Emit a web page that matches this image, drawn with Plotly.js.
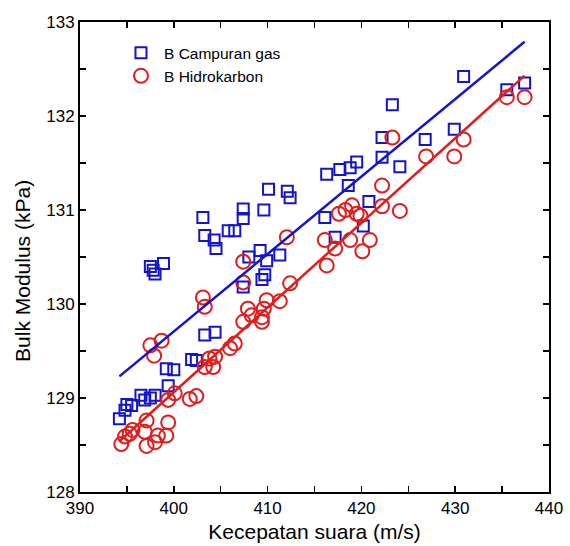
<!DOCTYPE html>
<html>
<head>
<meta charset="utf-8">
<script src="https://cdn.plot.ly/plotly-3.0.1.min.js"></script>
<style>
  html, body { margin: 0; padding: 0; background: #fff; }
  #chart { width: 570px; height: 546px; }
</style>
</head>
<body>
<div id="chart"></div>
<script>
// Series: B Campuran gas (blue squares)
const gasX = [394.2, 394.8, 395.0, 395.5, 396.5, 396.9, 397.5, 398.0, 399.4, 399.2, 400.0, 401.9, 402.4, 403.3, 404.4,
  397.5, 397.8, 398.0, 398.9, 403.1, 403.3, 404.3, 404.5, 405.8, 406.5, 407.4, 407.4, 407.4, 408.0, 409.2,
  409.9, 411.3, 409.4, 409.7, 409.6, 410.1, 412.1, 412.4, 416.1, 416.3, 417.2, 417.7, 418.6, 418.8, 419.5,
  420.2, 420.8, 422.2, 422.2, 423.3, 424.1, 426.8, 429.9, 430.9, 435.5, 437.4];
const gasY = [128.78, 128.87, 128.93, 128.92, 129.03, 128.98, 129.00, 129.03, 129.13, 129.31, 129.30, 129.41, 129.40, 129.67, 129.70,
  130.40, 130.36, 130.32, 130.43, 130.92, 130.73, 130.68, 130.59, 130.78, 130.78, 131.01, 130.91, 130.18, 130.50, 130.57,
  130.46, 130.52, 130.26, 130.31, 131.00, 131.22, 131.20, 131.13, 130.92, 131.38, 130.71, 131.43, 131.26, 131.45, 131.51,
  130.83, 131.09, 131.56, 131.77, 132.12, 131.46, 131.75, 131.86, 132.42, 132.28, 132.35];

// Series: B Hidrokarbon (red circles)
const hcX = [394.4, 394.8, 395.3, 395.6, 396.9, 397.1, 397.1, 398.0, 398.3, 399.2, 399.4, 399.4, 400.1, 401.7, 402.4,
  397.5, 398.7, 397.9, 403.1, 403.3, 403.8, 403.3, 404.4, 404.2, 406.0, 406.5, 407.4, 407.9, 408.3, 409.6,
  409.4, 409.4, 409.9, 411.3, 412.4, 407.4, 407.4, 412.05, 416.1, 416.3, 417.2, 417.6, 418.3, 419.0, 419.5,
  418.8, 419.9, 420.1, 420.9, 422.2, 422.2, 424.1, 423.3, 426.9, 429.9, 430.9, 435.5, 437.4];
const hcY = [128.51, 128.59, 128.62, 128.66, 128.64, 128.76, 128.49, 128.53, 128.60, 128.60, 128.74, 128.98, 129.05, 128.99, 129.02,
  129.56, 129.61, 129.45, 130.07, 129.97, 129.42, 129.33, 129.44, 129.33, 129.53, 129.58, 129.81, 129.95, 129.88, 129.95,
  129.86, 129.81, 130.04, 130.03, 130.22, 130.45, 130.23, 130.71, 130.68, 130.41, 130.59, 130.96, 131.00, 131.05, 130.96,
  130.68, 130.94, 130.56, 130.68, 131.04, 131.26, 130.99, 131.77, 131.57, 131.57, 131.75, 132.20, 132.20];

// Fit lines (endpoints)
const fitX = [394.2, 437.4];
const fitGasY = [129.23, 132.79];
const fitHcY = [128.54, 132.43];

// Tick labels
const xTickVals = [390, 395, 400, 405, 410, 415, 420, 425, 430, 435, 440];
const xTickText = ['390', '', '400', '', '410', '', '420', '', '430', '', '440'];
const yTickVals = [128, 128.5, 129, 129.5, 130, 130.5, 131, 131.5, 132, 132.5, 133];
const yTickText = ['128', '', '129', '', '130', '', '131', '', '132', '', '133'];

const BLUE = '#1414c8';
const RED = '#e01e1e';
const FONT = 'Liberation Sans, Arial, sans-serif';

const traces = [
  { x: gasX, y: gasY, mode: 'markers', type: 'scatter', name: 'B Campuran gas',
    marker: { symbol: 'square-open', size: 11, color: BLUE, line: { width: 2, color: BLUE } } },
  { x: hcX, y: hcY, mode: 'markers', type: 'scatter', name: 'B Hidrokarbon',
    marker: { symbol: 'circle-open', size: 14, color: RED, line: { width: 2, color: RED } } },
  { x: fitX, y: fitGasY, mode: 'lines', type: 'scatter', showlegend: false,
    line: { color: BLUE, width: 2.5 } },
  { x: fitX, y: fitHcY, mode: 'lines', type: 'scatter', showlegend: false,
    line: { color: RED, width: 2.5 } }
];

const axisCommon = {
  showgrid: false, zeroline: false, showline: true, linecolor: '#000', linewidth: 2,
  mirror: 'ticks', ticks: 'inside', ticklen: 6, tickwidth: 1.5, tickcolor: '#000',
  tickmode: 'array', tickfont: { family: FONT, size: 17, color: '#000' }
};

const layout = {
  width: 570, height: 546,
  margin: { l: 80, r: 21, t: 22, b: 54 },
  paper_bgcolor: '#fff', plot_bgcolor: '#fff',
  showlegend: true,
  legend: { x: 0.081, y: 0.97, xanchor: 'left', yanchor: 'top', bgcolor: 'rgba(0,0,0,0)',
    itemwidth: 36,
    font: { family: FONT, size: 15.5, color: '#000' }, tracegroupgap: 0 },
  xaxis: Object.assign({}, axisCommon, {
    range: [390, 440], tickvals: xTickVals, ticktext: xTickText,
    title: { text: 'Kecepatan suara (m/s)', font: { family: FONT, size: 21, color: '#000' }, standoff: 7 }
  }),
  yaxis: Object.assign({}, axisCommon, {
    range: [128, 133], tickvals: yTickVals, ticktext: yTickText
  }),
  annotations: [{
    text: 'Bulk Modulus (kPa)', textangle: -90, showarrow: false,
    xref: 'paper', yref: 'paper', x: -0.124, y: 0.47, xanchor: 'center', yanchor: 'middle',
    font: { family: FONT, size: 21, color: '#000' }
  }]
};

Plotly.newPlot('chart', traces, layout, { displayModeBar: false, staticPlot: true });
</script>
</body>
</html>
